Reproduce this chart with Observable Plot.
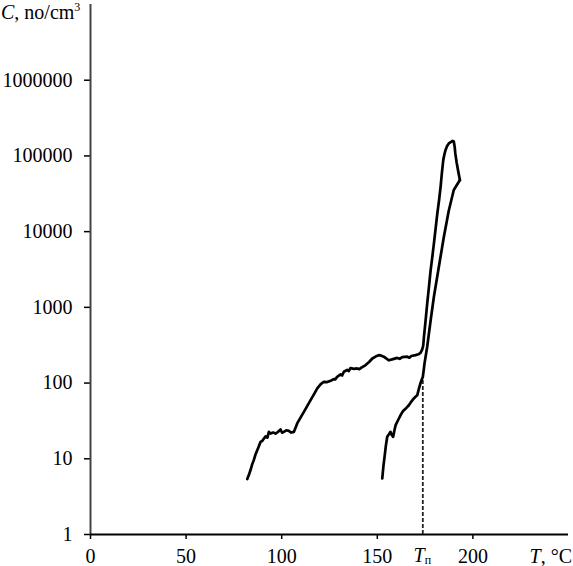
<!DOCTYPE html>
<html>
<head>
<meta charset="utf-8">
<script src="https://cdn.jsdelivr.net/npm/d3@7"></script>
<script src="https://cdn.jsdelivr.net/npm/@observablehq/plot@0.6"></script>
<style>
  html, body { margin: 0; padding: 0; background: #fff; }
</style>
</head>
<body>
<div id="chart"></div>
<script>
// Particle concentration vs temperature, two runs
const tempA = [82.0, 83.0, 83.7, 84.6, 85.4, 86.2, 87.2, 88.0, 88.9, 89.8, 90.7, 91.6, 92.5, 93.3, 94.2, 95.5, 96.8, 98.0, 99.4, 100.2,
  101.1, 102.4, 103.7, 105.0, 106.4, 107.2, 108.1, 110.0, 111.6, 113.4, 115.1, 117.0, 118.6, 120.3, 122.0, 123.8, 125.6, 127.2, 128.1, 129.0,
  130.8, 131.6, 132.5, 134.2, 135.1, 136.0, 137.7, 139.5, 140.6, 141.7, 143.9, 145.7, 147.4, 149.1, 150.8, 152.1, 153.4, 154.8, 156.1, 158.2, 160.4, 161.7, 163.0,
  165.7, 166.8, 167.8, 170.0, 171.5, 172.6, 173.4, 174.0, 174.4, 175.2, 176.1, 177.0, 177.9, 178.8, 179.6, 180.5, 181.4, 182.3, 183.1, 183.8,
  184.5, 185.1, 185.7, 186.5, 187.4, 188.6, 189.4, 190.0, 190.5, 190.8, 191.5, 192.2, 193.2];
const concA = [5.4, 6.3, 7.1, 8.5, 9.6, 11.2, 13, 14.5, 16.7, 17.2, 18.5, 19.8, 19, 22.7, 21.5, 22.2, 21.5, 22.6, 24.4, 22.1,
  22.7, 23.8, 23.4, 22.2, 22.7, 25.5, 29.3, 35.5, 41.7, 50, 59.4, 72, 85, 96, 104, 103, 107, 113, 112, 121,
  130, 126, 141, 149, 144, 158, 154, 156, 153, 160, 173, 190, 211, 224, 234, 230, 223, 210, 200, 207, 215, 209, 220,
  223, 216, 228, 234, 240, 251, 275, 310, 408, 650, 1120, 1850, 3100, 4700, 6960, 11000, 17400, 26000, 39000, 60000,
  88000, 105000, 120000, 135000, 146000, 153000, 158000, 155000, 130000, 108000, 82000, 65000, 48000];

const tempB = [152.6, 153.2, 153.8, 154.5, 155.2, 156.0, 156.9, 157.6, 158.3, 159.0, 159.6, 160.9, 162.2, 163.0, 163.9, 165.2, 166.5,
  167.8, 169.1, 170.0, 170.9, 171.8, 172.6, 173.3, 173.8, 174.3, 174.7, 176.1, 177.9, 179.6, 182.2, 184.8, 187.4, 190.0, 193.2];
const concB = [5.5, 8, 10.6, 15, 19.5, 21, 22.7, 20.5, 19.5, 24, 27.8, 32.5, 37.7, 41, 43.9, 47, 51,
  57, 62.7, 66, 69, 85, 100, 112, 120, 150, 182, 302, 676, 1380, 3430, 8510, 19000, 35500, 48000];

// Onset temperature and the concentration where run B crosses it
const tn = 173.8;
const tnC = 120;

const xTicks = [0, 50, 100, 150, 200];
const yTicks = [1, 10, 100, 1000, 10000, 100000, 1000000];

const runA = tempA.map((t, i) => ({t, c: concA[i]}));
const runB = tempB.map((t, i) => ({t, c: concB[i]}));

const FONT = '"Liberation Serif", "Times New Roman", Times, serif';

// Rich-text labels: axis titles and the T_п marker
function labels(index, scales, values, dims) {
  const g = d3.create("svg:g")
    .attr("font-family", FONT)
    .attr("font-size", 20)
    .attr("fill", "black")
    .attr("text-anchor", "start");
  const yTitle = g.append("text").attr("x", 1).attr("y", 19).attr("text-anchor", "start");
  yTitle.append("tspan").attr("font-style", "italic").text("C");
  yTitle.append("tspan").text(", no/cm");
  yTitle.append("tspan").attr("font-size", 12).attr("dy", -8).text("3");

  const base = dims.height - dims.marginBottom + 29;
  const xTitle = g.append("text").attr("x", dims.width - 1).attr("y", base).attr("text-anchor", "end");
  xTitle.append("tspan").attr("font-style", "italic").text("T");
  xTitle.append("tspan").text(", °C");

  const tnLabel = g.append("text").attr("x", scales.x(tn)).attr("y", base - 1).attr("text-anchor", "middle");
  tnLabel.append("tspan").attr("font-style", "italic").text("T");
  tnLabel.append("tspan").attr("font-size", 12).attr("dy", 2).text("п");
  return g.node();
}

const chart = Plot.plot({
  width: 573,
  height: 566,
  marginTop: 4,
  marginRight: 5,
  marginBottom: 32,
  marginLeft: 90,
  style: {fontFamily: FONT, fontSize: "20px", color: "black", background: "white"},
  x: {domain: [0, 250]},
  y: {type: "log", domain: [1, 1e7]},
  marks: [
    Plot.axisY({ticks: yTicks, tickFormat: d => String(d), tickSize: 6, tickPadding: 12, label: null, fontSize: 20, strokeWidth: 1.5}),
    Plot.axisX({ticks: xTicks, tickFormat: d => String(d), tickSize: 5, tickPadding: 9, label: null, fontSize: 20, strokeWidth: 1.5}),
    Plot.ruleX([0], {stroke: "#444", strokeWidth: 2}),
    Plot.ruleY([1], {stroke: "black", strokeWidth: 2}),
    Plot.ruleX([tn], {y1: 1, y2: tnC, stroke: "#222", strokeWidth: 1.8, strokeDasharray: "4,2"}),
    Plot.line(runA, {x: "t", y: "c", stroke: "black", strokeWidth: 2.7, strokeLinejoin: "round"}),
    Plot.line(runB, {x: "t", y: "c", stroke: "black", strokeWidth: 2.7, strokeLinejoin: "round"}),
    labels
  ]
});

document.getElementById("chart").appendChild(chart);
</script>
</body>
</html>
